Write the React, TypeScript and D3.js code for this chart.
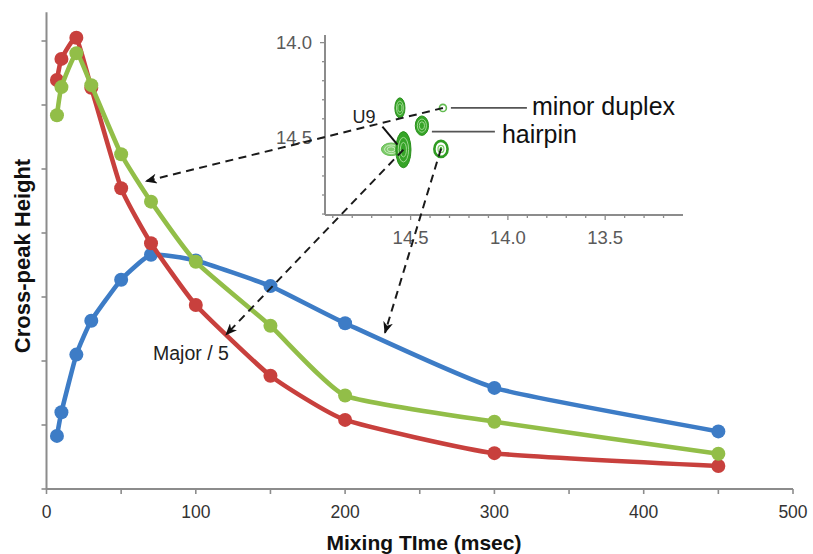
import React from "react";
import * as d3 from "d3";

// Mixing times (msec) and cross-peak heights (arbitrary units, tick spacing = 1)
const mixingTimes = [7, 10, 20, 30, 50, 70, 100, 150, 200, 300, 450];
const majorOverFive = [6.39, 6.72, 7.05, 6.27, 4.7, 3.84, 2.875, 1.77, 1.08, 0.56, 0.36];
const minorDuplex = [5.84, 6.28, 6.81, 6.31, 5.23, 4.49, 3.55, 2.55, 1.46, 1.05, 0.55];
const exchangePeak = [0.83, 1.2, 2.1, 2.63, 3.27, 3.66, 3.57, 3.17, 2.59, 1.58, 0.9];

const xTickValues = [0, 50, 100, 150, 200, 250, 300, 350, 400, 450, 500];
const xTickLabels = [0, 100, 200, 300, 400, 500];
const yTickValues = [0, 1, 2, 3, 4, 5, 6, 7];

// Inset: imino region of the NOESY spectrum (ppm)
const insetXLabels = [14.5, 14.0, 13.5];
const insetYLabels = [14.0, 14.5];
const peakX = [14.6, 14.537, 14.555, 14.442, 14.344, 14.334];
const peakY = [14.56, 14.562, 14.343, 14.436, 14.558, 14.343];
const peakWx = [0.05, 0.039, 0.026, 0.034, 0.034, 0.018];
const peakWy = [0.033, 0.095, 0.053, 0.051, 0.042, 0.019];
const peakRing = [false, false, false, false, true, true];

// Dashed arrows: from an inset peak to a point on a decay curve (msec, height)
const arrowFromPeak = [5, 1, 4];
const arrowToTime = [66.6, 120.2, 226.7];
const arrowToHeight = [4.81, 2.41, 2.44];

const FONT = "'Liberation Sans', Arial, sans-serif";

export default function App() {
  const W = 813;
  const H = 554;
  const x = d3.scaleLinear().domain([0, 500]).range([46.5, 793]);
  const y = d3.scaleLinear().domain([0, 7.45]).range([489, 12.2]);
  const ix = d3.scaleLinear().domain([14.94, 13.1]).range([325, 683]);
  const iy = d3.scaleLinear().domain([13.96, 14.905]).range([35, 215]);

  const line = d3
    .line<number>()
    .x((_, i) => x(mixingTimes[i]))
    .y((d) => y(d))
    .curve(d3.curveCardinal.tension(0.55));

  const series = [
    { values: exchangePeak, color: "#3d7cc6" },
    { values: majorOverFive, color: "#c8403d" },
    { values: minorDuplex, color: "#92be48" },
  ];

  const axisColor = "#8c8c8c";
  const insetTicksX = d3.range(14.9, 13.15, -0.1);
  const insetTicksY = d3.range(14.0, 14.91, 0.1);

  // peak pixel centers used for leader lines
  const pc = (i: number) => [ix(peakX[i]), iy(peakY[i])];
  const [ax, ay] = pc(1);
  const [cx, cy] = pc(3);
  const [ex, ey] = pc(5);

  return (
    <svg
      width={W}
      height={H}
      viewBox={`0 0 ${W} ${H}`}
      style={{ position: "absolute", left: 0, top: 0, background: "#fff" }}
    >
      <defs>
        <marker
          id="ah"
          viewBox="0 0 12 10"
          refX="11"
          refY="5"
          markerWidth="12"
          markerHeight="10"
          markerUnits="userSpaceOnUse"
          orient="auto"
        >
          <path d="M0,0 L12,5 L0,10 L3.5,5 Z" fill="#111" />
        </marker>
      </defs>
      <rect width={W} height={H} fill="#fff" />

      {/* main axes */}
      <line x1={x(0)} x2={x(500)} y1={y(0)} y2={y(0)} stroke={axisColor} strokeWidth={2} />
      <line x1={x(0)} x2={x(0)} y1={y(0)} y2={y(7.45)} stroke={axisColor} strokeWidth={2} />
      {xTickValues.map((t) => (
        <line key={"xt" + t} x1={x(t)} x2={x(t)} y1={y(0)} y2={y(0) + 5} stroke={axisColor} strokeWidth={1.6} />
      ))}
      {yTickValues.map((t) => (
        <line key={"yt" + t} x1={x(0) - 5} x2={x(0)} y1={y(t)} y2={y(t)} stroke={axisColor} strokeWidth={1.6} />
      ))}
      {xTickLabels.map((t) => (
        <text key={"xl" + t} x={x(t)} y={518} textAnchor="middle" fontFamily={FONT} fontSize={17.5} fill="#333">
          {t}
        </text>
      ))}
      <text x={424} y={550} textAnchor="middle" fontFamily={FONT} fontSize={21} fontWeight="bold" fill="#111">
        Mixing TIme (msec)
      </text>
      <text
        transform="translate(30,256) rotate(-90)"
        textAnchor="middle"
        fontFamily={FONT}
        fontSize={22}
        fontWeight="bold"
        fill="#111"
      >
        Cross-peak Height
      </text>

      {/* decay curves */}
      {series.map((s, si) => (
        <g key={"s" + si}>
          <path d={line(s.values) || ""} fill="none" stroke={s.color} strokeWidth={4.6} strokeLinejoin="round" />
          {s.values.map((v, i) => (
            <circle key={i} cx={x(mixingTimes[i])} cy={y(v)} r={7} fill={s.color} />
          ))}
        </g>
      ))}

      <text x={153} y={360} fontFamily={FONT} fontSize={19.5} fill="#222">
        Major / 5
      </text>

      {/* inset spectrum axes */}
      <line x1={ix(14.94)} x2={ix(13.1)} y1={iy(14.905)} y2={iy(14.905)} stroke={axisColor} strokeWidth={2} />
      <line x1={ix(14.94)} x2={ix(14.94)} y1={iy(13.96)} y2={iy(14.905)} stroke={axisColor} strokeWidth={2} />
      {insetTicksX.map((t, i) => {
        const major = insetXLabels.some((l) => Math.abs(l - t) < 1e-6);
        return (
          <line key={"ixt" + i} x1={ix(t)} x2={ix(t)} y1={iy(14.905)} y2={iy(14.905) + (major ? 5 : 3)} stroke={axisColor} strokeWidth={1.3} />
        );
      })}
      {insetTicksY.map((t, i) => {
        const major = insetYLabels.some((l) => Math.abs(l - t) < 1e-6);
        return (
          <line key={"iyt" + i} x1={ix(14.94) - (major ? 5 : 3)} x2={ix(14.94)} y1={iy(t)} y2={iy(t)} stroke={axisColor} strokeWidth={1.3} />
        );
      })}
      {insetXLabels.map((t) => (
        <text key={"ixl" + t} x={ix(t)} y={244} textAnchor="middle" fontFamily={FONT} fontSize={18.5} fill="#5a5a5a">
          {t.toFixed(1)}
        </text>
      ))}
      {insetYLabels.map((t) => (
        <text key={"iyl" + t} x={ix(14.94) - 13} y={iy(t) + 6.5} textAnchor="end" fontFamily={FONT} fontSize={18.5} fill="#5a5a5a">
          {t.toFixed(1)}
        </text>
      ))}

      {/* contour peaks */}
      {peakX.map((px, i) => {
        const cxp = ix(px);
        const cyp = iy(peakY[i]);
        const rx = Math.abs(ix(px + peakWx[i]) - cxp);
        const ry = Math.abs(iy(peakY[i] + peakWy[i]) - cyp);
        if (peakRing[i]) {
          const small = rx < 5;
          return (
            <g key={"p" + i}>
              <ellipse cx={cxp} cy={cyp} rx={rx} ry={ry} fill="#fff" stroke={small ? "#62bb50" : "#2f9c22"} strokeWidth={small ? 1.6 : 2.6} />
              {!small && <ellipse cx={cxp} cy={cyp} rx={rx * 0.45} ry={ry * 0.45} fill="none" stroke="#7ccc6a" strokeWidth={1.2} />}
              {!small && <ellipse cx={cxp} cy={cyp} rx={1.4} ry={1.8} fill="#2f9c22" />}
            </g>
          );
        }
        const lobe = i === 0;
        return (
          <g key={"p" + i}>
            <ellipse cx={cxp} cy={cyp} rx={rx} ry={ry} fill={lobe ? "#7fcb6c" : "#36a428"} stroke={lobe ? "#63bb50" : "#2a901d"} strokeWidth={1} />
            {[0.68, 0.4].map((s, k) => (
              <ellipse
                key={k}
                cx={cxp}
                cy={cyp}
                rx={rx * s}
                ry={ry * s}
                fill="none"
                stroke={lobe ? "#d3f0ca" : "#a9de9b"}
                strokeWidth={0.9}
              />
            ))}
          </g>
        );
      })}

      {/* dashed arrows from peaks to curves */}
      {arrowFromPeak.map((p, i) => (
        <line
          key={"ar" + i}
          x1={ix(peakX[p])}
          y1={iy(peakY[p])}
          x2={x(arrowToTime[i])}
          y2={y(arrowToHeight[i])}
          stroke="#1a1a1a"
          strokeWidth={2}
          strokeDasharray="8,5.5"
          markerEnd="url(#ah)"
        />
      ))}

      {/* peak labels */}
      <line x1={ex + 8} x2={ex + 84} y1={ey} y2={ey} stroke="#555" strokeWidth={1.8} />
      <text x={ex + 89} y={ey + 7} fontFamily={FONT} fontSize={25} fill="#111">
        minor duplex
      </text>
      <line x1={cx + 10} x2={cx + 73} y1={cy + 6} y2={cy + 6} stroke="#555" strokeWidth={1.8} />
      <text x={cx + 80} y={cy + 17} fontFamily={FONT} fontSize={25} fill="#111">
        hairpin
      </text>
      <text x={ax - 51} y={ay - 27} fontFamily={FONT} fontSize={18} fill="#222">
        U9
      </text>
      <line x1={ax - 21} y1={ay - 23} x2={ax - 6} y2={ay - 5} stroke="#111" strokeWidth={2} />
    </svg>
  );
}
